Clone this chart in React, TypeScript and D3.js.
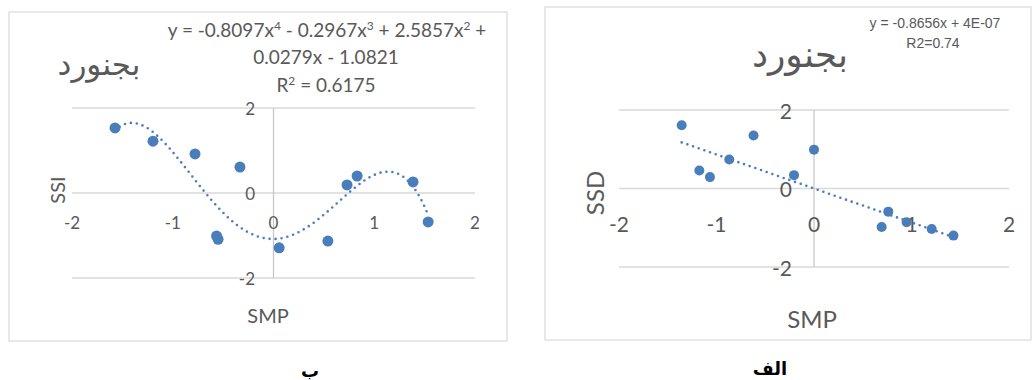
import React from "react";
import * as d3 from "d3";

// Bojnourd: SSI vs SMP (polynomial trend, order 4)
const ssiSmp = [-1.573, -1.196, -0.779, -0.333, -0.565, -0.55, 0.056, 0.54, 0.73, 0.83, 1.385, 1.535];
const ssiValues = [1.53, 1.22, 0.92, 0.61, -1.01, -1.09, -1.29, -1.13, 0.19, 0.4, 0.26, -0.68];
const ssiPolyCoef = [-1.0821, 0.0279, 2.5857, -0.2967, -0.8097]; // c0..c4

// Bojnourd: SSD vs SMP (linear trend)
const ssdSmp = [-1.357, -1.176, -1.067, -0.869, -0.62, -0.205, 0.0, 0.694, 0.762, 0.95, 1.207, 1.43];
const ssdValues = [1.61, 0.46, 0.29, 0.74, 1.35, 0.34, 0.99, -0.98, -0.59, -0.86, -1.03, -1.2];
const ssdSlope = -0.8656;
const ssdIntercept = 4e-7;

const axisTicks = [-2, -1, 0, 1, 2];
const gridTicks = [-2, 0, 2];
const cityTitle = "بجنورد";

const BLUE = "#4a7ebb";
const GRID = "#d9d9d9";
const TEXT = "#595959";
const LATIN = "Lato, 'Open Sans', sans-serif";
const ARABIC = "'DejaVu Sans', 'Noto Sans', sans-serif";

type PanelProps = {
  xs: number[];
  ys: number[];
  trend: (x: number) => number;
  box: { x: number; y: number; w: number; h: number };
  xRange: [number, number];
  yRange: [number, number];
  tickFont: number;
  xTickY: number;
  yTickX: number;
  yTitle: string;
  yTitlePos: [number, number];
  xTitlePos: [number, number];
  titleFont: number;
  axisTitleFont: number;
  titlePos: [number, number];
  r: number;
};

function Panel(p: PanelProps) {
  const x = d3.scaleLinear().domain([-2, 2]).range(p.xRange);
  const y = d3.scaleLinear().domain([-2, 2]).range(p.yRange);
  const [lo, hi] = d3.extent(p.xs) as [number, number];
  const samples = d3.range(0, 201).map((i) => lo + ((hi - lo) * i) / 200);
  const line = d3
    .line<number>()
    .x((v) => x(v))
    .y((v) => y(p.trend(v)))
    .curve(d3.curveLinear);
  return (
    <g>
      <rect x={p.box.x} y={p.box.y} width={p.box.w} height={p.box.h} fill="#fff" stroke={GRID} strokeWidth={1.2} />
      {gridTicks.map((t) => (
        <line key={t} x1={p.xRange[0]} x2={p.xRange[1]} y1={y(t)} y2={y(t)} stroke={GRID} strokeWidth={1.3} />
      ))}
      <line x1={x(0)} x2={x(0)} y1={y(2)} y2={y(-2)} stroke="#c8c8c8" strokeWidth={1.3} />
      {axisTicks.map((t) => (
        <text key={t} x={x(t)} y={p.xTickY} textAnchor="middle" dominantBaseline="central" fontFamily={LATIN} fontSize={p.tickFont} fill={TEXT}>
          {t}
        </text>
      ))}
      {gridTicks.map((t) => (
        <text key={t} x={p.yTickX} y={y(t)} textAnchor="end" dominantBaseline="central" fontFamily={LATIN} fontSize={p.tickFont} fill={TEXT}>
          {t}
        </text>
      ))}
      <path d={line(samples) || ""} fill="none" stroke={BLUE} strokeWidth={2.6} strokeDasharray="0 6" strokeLinecap="round" />
      {p.xs.map((v, i) => (
        <circle key={i} cx={x(v)} cy={y(p.ys[i])} r={p.r} fill={BLUE} />
      ))}
      <text x={p.titlePos[0]} y={p.titlePos[1]} textAnchor="middle" dominantBaseline="central" fontFamily={ARABIC} fontSize={p.titleFont} fill={TEXT}>
        {cityTitle}
      </text>
      <text
        transform={`translate(${p.yTitlePos[0]},${p.yTitlePos[1]}) rotate(-90)`}
        textAnchor="middle"
        dominantBaseline="central"
        fontFamily={LATIN}
        fontSize={p.axisTitleFont}
        fill={TEXT}
      >
        {p.yTitle}
      </text>
      <text x={p.xTitlePos[0]} y={p.xTitlePos[1]} textAnchor="middle" dominantBaseline="central" fontFamily={LATIN} fontSize={p.axisTitleFont} fill={TEXT}>
        SMP
      </text>
    </g>
  );
}

const poly = (v: number) => ssiPolyCoef.reduce((s, c, k) => s + c * Math.pow(v, k), 0);
const lin = (v: number) => ssdSlope * v + ssdIntercept;

export default function App() {
  const sup = (s: string) => (
    <tspan baselineShift="super" fontSize={12}>
      {s}
    </tspan>
  );
  return (
    <svg width={1034} height={380} style={{ position: "absolute", left: 0, top: 0, background: "#fff" }}>
      <Panel
        xs={ssiSmp}
        ys={ssiValues}
        trend={poly}
        box={{ x: 9, y: 12, w: 498, h: 329 }}
        xRange={[72, 475]}
        yRange={[278, 108]}
        tickFont={17}
        xTickY={222}
        yTickX={255}
        yTitle="SSI"
        yTitlePos={[57, 190]}
        xTitlePos={[268, 315]}
        titleFont={31}
        axisTitleFont={20}
        titlePos={[99, 64]}
        r={5.5}
      />
      <Panel
        xs={ssdSmp}
        ys={ssdValues}
        trend={lin}
        box={{ x: 545, y: 7, w: 486, h: 333 }}
        xRange={[619, 1009]}
        yRange={[267, 110]}
        tickFont={21}
        xTickY={223}
        yTickX={792}
        yTitle="SSD"
        yTitlePos={[594, 193]}
        xTitlePos={[812, 318]}
        titleFont={36}
        axisTitleFont={24}
        titlePos={[800, 54]}
        r={5}
      />
      {/* trendline equations */}
      <g fontFamily={LATIN} fontSize={19} fill={TEXT} textAnchor="middle">
        <text x={327} y={37}>
          y = -0.8097x{sup("4")} - 0.2967x{sup("3")} + 2.5857x{sup("2")} +
        </text>
        <text x={326} y={64}>0.0279x - 1.0821</text>
        <text x={326} y={92}>
          R{sup("2")} = 0.6175
        </text>
      </g>
      <g fontFamily="'Liberation Sans Narrow', 'Arial Narrow', sans-serif" fontSize={14} fill={TEXT} textAnchor="middle">
        <text x={935} y={28}>y = -0.8656x + 4E-07</text>
        <text x={933} y={48}>R2=0.74</text>
      </g>
      {/* panel captions */}
      <text x={310} y={370} textAnchor="middle" dominantBaseline="central" fontFamily={ARABIC} fontWeight="bold" fontSize={18} fill="#000">
        ب
      </text>
      <text x={770} y={368} textAnchor="middle" dominantBaseline="central" fontFamily={ARABIC} fontWeight="bold" fontSize={18} fill="#000">
        الف
      </text>
    </svg>
  );
}
